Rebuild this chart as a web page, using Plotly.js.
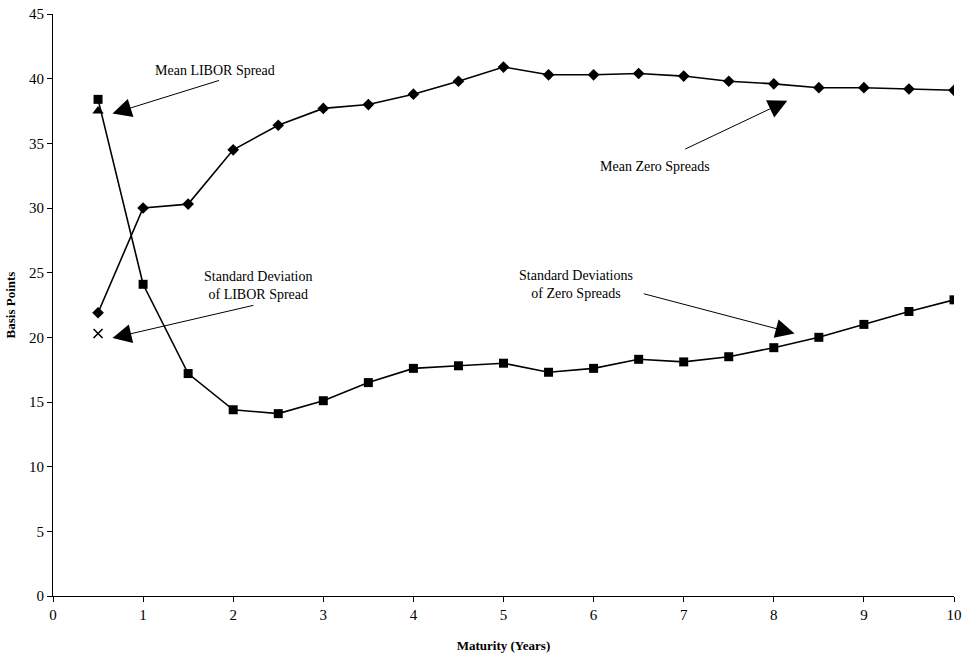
<!DOCTYPE html>
<html><head><meta charset="utf-8">
<script src="https://cdn.plot.ly/plotly-3.0.1.min.js"></script>
<style>html,body{margin:0;padding:0;background:#fff;}#chart{width:967px;height:655px;}</style>
</head><body><div id="chart"></div>
<script>
const maturity = [0.5,1,1.5,2,2.5,3,3.5,4,4.5,5,5.5,6,6.5,7,7.5,8,8.5,9,9.5,10];
const meanZeroSpreads = [21.9,30.0,30.3,34.5,36.4,37.7,38.0,38.8,39.8,40.9,40.3,40.3,40.4,40.2,39.8,39.6,39.3,39.3,39.2,39.1];
const stdZeroSpreads = [38.4,24.1,17.2,14.4,14.1,15.1,16.5,17.6,17.8,18.0,17.3,17.6,18.3,18.1,18.5,19.2,20.0,21.0,22.0,22.9];
const liborMaturity = [0.5];
const meanLibor = [37.5];
const stdLibor = [20.3];
const xTicks = [0,1,2,3,4,5,6,7,8,9,10];
const yTicks = [0,5,10,15,20,25,30,35,40,45];

const fontFam = '"Liberation Serif", "DejaVu Serif", serif';

const traces = [
  {x: maturity, y: meanZeroSpreads, mode: 'lines+markers', name: 'Mean Zero Spreads',
   line: {color: '#000', width: 1.6}, marker: {symbol: 'diamond', size: 9, color: '#000'}},
  {x: maturity, y: stdZeroSpreads, mode: 'lines+markers', name: 'Standard Deviations of Zero Spreads',
   line: {color: '#000', width: 1.6}, marker: {symbol: 'square', size: 9, color: '#000'}},
  {x: liborMaturity, y: meanLibor, mode: 'markers', name: 'Mean LIBOR Spread',
   marker: {symbol: 'triangle-up', size: 10, color: '#000'}},
  {x: liborMaturity, y: stdLibor, mode: 'markers', name: 'Standard Deviation of LIBOR Spread',
   marker: {symbol: 'x-thin', size: 9, color: '#000', line: {color: '#000', width: 1.6}}}
];

function arrow(x, y, ax, ay) {
  return {x: x, y: y, ax: ax, ay: ay, xref: 'x', yref: 'y', axref: 'x', ayref: 'y',
    text: '', showarrow: true, arrowhead: 2, arrowsize: 3.8, arrowwidth: 1, arrowcolor: '#000', standoff: 0};
}
function label(x, y, t) {
  return {x: x, y: y, xref: 'x', yref: 'y', text: t, showarrow: false,
    font: {family: fontFam, size: 14, color: '#000'}, align: 'center'};
}

const layout = {
  width: 967, height: 655,
  margin: {l: 53, r: 13, t: 14, b: 59},
  paper_bgcolor: '#fff', plot_bgcolor: '#fff',
  showlegend: false,
  font: {family: fontFam, color: '#000', size: 14},
  xaxis: {range: [0, 10], tickvals: xTicks, ticktext: xTicks.map(String), showgrid: false, zeroline: false,
    showline: true, linecolor: '#000', linewidth: 1, ticks: 'outside', ticklen: 5, tickcolor: '#000',
    tickfont: {family: fontFam, size: 15},
    title: {text: '<b>Maturity (Years)</b>', font: {family: fontFam, size: 13}, standoff: 18}},
  yaxis: {range: [0, 45], tickvals: yTicks, ticktext: yTicks.map(String), showgrid: false, zeroline: false,
    showline: true, linecolor: '#000', linewidth: 1, ticks: 'outside', ticklen: 5, tickcolor: '#000',
    tickfont: {family: fontFam, size: 15},
    title: {text: '<b>Basis Points</b>', font: {family: fontFam, size: 13}, standoff: 10}},
  annotations: [
    arrow(0.66, 37.3, 1.86, 39.9),
    label(1.8, 40.6, 'Mean LIBOR Spread'),
    arrow(0.66, 19.95, 2.24, 22.5),
    label(2.27, 24.0, 'Standard Deviation<br>of LIBOR Spread'),
    arrow(8.15, 38.3, 7.0, 34.5),
    label(6.68, 33.2, 'Mean Zero Spreads'),
    arrow(8.23, 20.3, 6.54, 23.4),
    label(5.81, 24.1, 'Standard Deviations<br>of Zero Spreads')
  ]
};

Plotly.newPlot('chart', traces, layout, {displayModeBar: false, staticPlot: true});
</script>
</body></html>
